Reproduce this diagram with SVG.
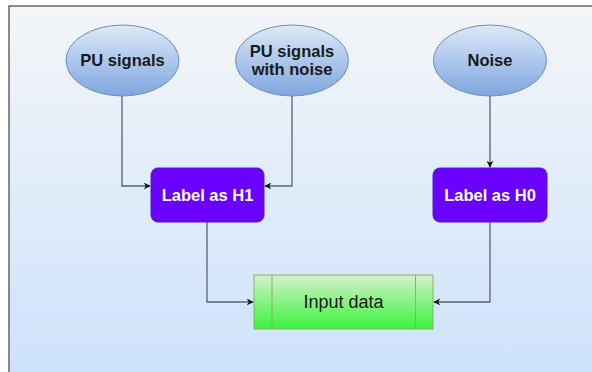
<svg xmlns="http://www.w3.org/2000/svg" width="592" height="372" viewBox="0 0 592 372">
<defs>
<linearGradient id="bg" x1="0" y1="0" x2="0" y2="1">
<stop offset="0" stop-color="#f4f6f8"/>
<stop offset="1" stop-color="#cde2fb"/>
</linearGradient>
<linearGradient id="ell" x1="0" y1="0" x2="0" y2="1">
<stop offset="0" stop-color="#dde9f7"/>
<stop offset="1" stop-color="#7ea6e0"/>
</linearGradient>
<linearGradient id="grn" x1="0" y1="0" x2="0" y2="1">
<stop offset="0" stop-color="#d5f2cd"/>
<stop offset="1" stop-color="#3af33a"/>
</linearGradient>
<marker id="arr" viewBox="0 0 10 10" refX="9" refY="5" markerWidth="7" markerHeight="7" markerUnits="userSpaceOnUse" orient="auto">
<path d="M0,0 L10,5 L0,10 L3,5 Z" fill="#111"/>
</marker>
<style>
.ell{fill:url(#ell);stroke:#6c8ebf;stroke-width:1}
.lab{fill:#6a00ff;stroke:#4a1fcc;stroke-width:1}
.t{font-family:"Liberation Sans",Arial,sans-serif;font-weight:bold;font-size:16.5px;text-anchor:middle;dominant-baseline:central}
.dark{fill:#1a1a1a}
.white{fill:#ffffff}
.con{fill:none;stroke:#5a6470;stroke-width:1.3;marker-end:url(#arr)}
</style>
</defs>
<rect x="0" y="0" width="592" height="372" fill="#ffffff"/>
<rect x="9" y="6" width="590" height="372" fill="url(#bg)" stroke="#666" stroke-width="1.5"/>
<g id="connectors">
<path class="con" d="M122,96 V186 H150"/>
<path class="con" d="M292,96 V186 H265"/>
<path class="con" d="M490,96 V167"/>
<path class="con" d="M207,222 V302 H253"/>
<path class="con" d="M490,222 V302 H434"/>
</g>
<g id="pu-signals">
<ellipse class="ell" cx="122.5" cy="60.5" rx="56.5" ry="35.5"/>
<text class="t dark" x="122.5" y="60">PU signals</text>
</g>
<g id="pu-signals-noise">
<ellipse class="ell" cx="292" cy="60.5" rx="56.5" ry="35.5"/>
<text class="t dark" x="292" y="51">PU signals</text>
<text class="t dark" x="292" y="69">with noise</text>
</g>
<g id="noise">
<ellipse class="ell" cx="490" cy="60.5" rx="56.5" ry="35.5"/>
<text class="t dark" x="490" y="60">Noise</text>
</g>
<g id="label-h1">
<rect class="lab" x="151" y="168" width="113" height="54" rx="7"/>
<text class="t white" x="207.5" y="195">Label as H1</text>
</g>
<g id="label-h0">
<rect class="lab" x="433" y="168" width="114" height="54" rx="7"/>
<text class="t white" x="490" y="195">Label as H0</text>
</g>
<g id="input-data">
<rect x="254" y="275" width="179" height="54" fill="url(#grn)" stroke="#82b366" stroke-width="1"/>
<line x1="272" y1="275" x2="272" y2="329" stroke="#82b366" stroke-width="1"/>
<line x1="415.5" y1="275" x2="415.5" y2="329" stroke="#82b366" stroke-width="1"/>
<text class="t dark" x="343.5" y="302" style="font-weight:normal;font-size:18px">Input data</text>
</g>
</svg>
